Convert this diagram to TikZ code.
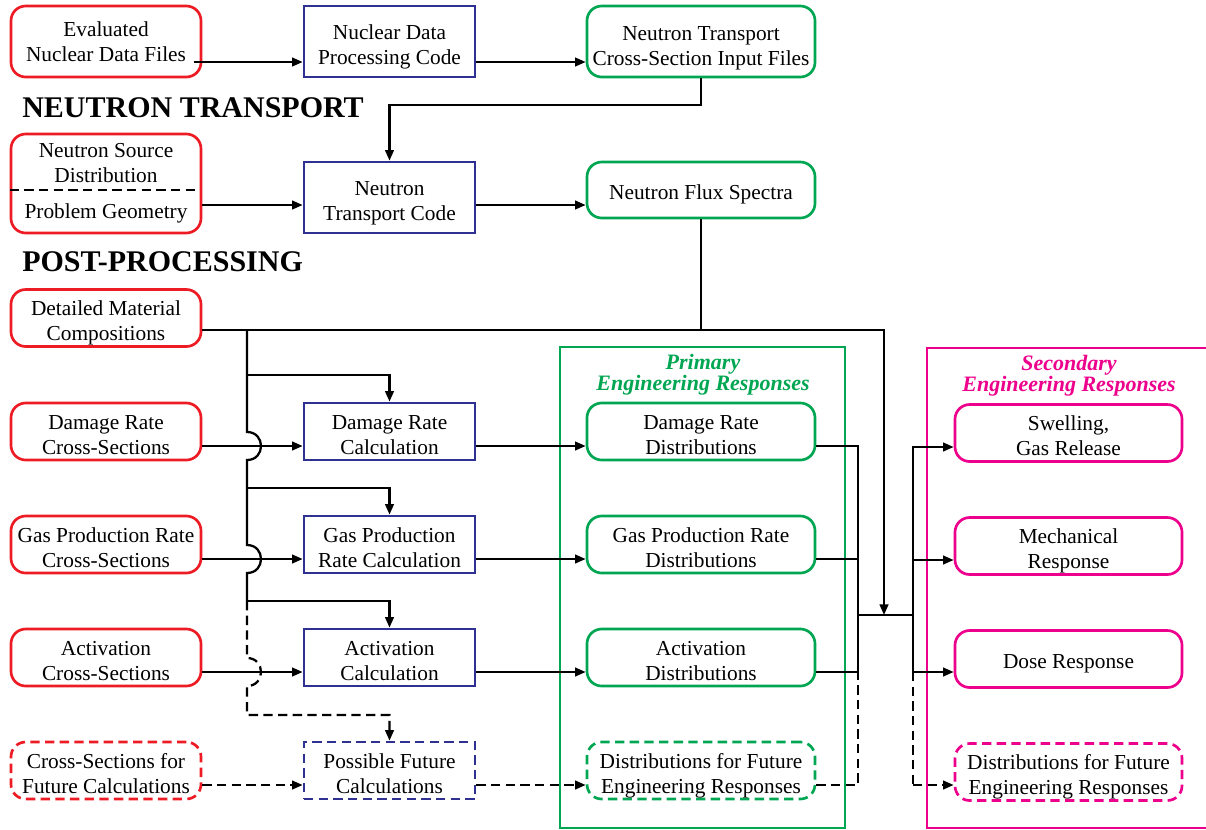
\documentclass[tikz,border=0pt]{standalone}
\usepackage{fontspec}
\setmainfont{Liberation Serif}
\usetikzlibrary{arrows.meta}
\definecolor{cred}{RGB}{237,28,36}
\definecolor{cblue}{RGB}{46,49,146}
\definecolor{cgreen}{RGB}{0,166,81}
\definecolor{cmag}{RGB}{236,0,140}
\begin{document}
\begin{tikzpicture}[x=0.75pt,y=-0.75pt,
 every node/.style={font=\fontsize{16}{18.75}\selectfont, align=center, inner sep=0pt},
 box/.style={draw, line width=2pt, minimum height=42.75pt, text height=34.25pt, text depth=0pt},
 one/.style={text height=14pt},
 rbox/.style={box, rounded corners=11pt, draw=cred, minimum width=142.5pt},
 bbox/.style={box, draw=cblue, minimum width=128.25pt},
 gbox/.style={box, rounded corners=11pt, draw=cgreen, minimum width=171pt},
 mbox/.style={box, rounded corners=11pt, draw=cmag, minimum width=170.25pt},
 fut/.style={dash pattern=on 7pt off 4pt},
 line/.style={line width=1.7pt},
 conn/.style={line width=1.7pt, -{Triangle[length=8pt,width=6.5pt]}},
 title/.style={font=\fontsize{22.5}{26}\selectfont\bfseries, anchor=west},
 ctitle/.style={font=\fontsize{16.5}{16}\selectfont\bfseries\itshape}
]
\useasboundingbox (0,0) rectangle (1206,829);
% containers
\draw[cgreen, line width=2pt] (560,347) rectangle (845,828);
\draw[cmag, line width=2pt] (927,348) rectangle (1220,828);
\node[ctitle, text=cgreen] (pt) at (703,375) {Primary\\Engineering Responses};
\node[ctitle, text=cmag] (st) at (1069,376) {Secondary\\Engineering Responses};

% row coordinates
\coordinate (r1) at (0,62);
\coordinate (r2) at (0,205);
\coordinate (r3) at (0,330);
\coordinate (ra) at (0,446);
\coordinate (rb) at (0,559);
\coordinate (rc) at (0,672);
\coordinate (rd) at (0,785);
\coordinate (xbus) at (247,0);
\coordinate (xl) at (858,0);
\coordinate (xr) at (913,0);
\coordinate (xj) at (884,0);
\coordinate (jn) at (884,615);

% top row
\node[rbox, minimum height=53.25pt, text height=30.5pt] (ev) at (106,41.5) {Evaluated\\Nuclear Data Files};
\node[bbox, minimum height=53.25pt] (ndp) at (389.5,41.5) {Nuclear Data\\Processing Code};
\node[gbox, minimum height=53.25pt, text height=36pt] (xs) at (701,41.5) {Neutron Transport\\Cross-Section Input Files};

\node[title] (nt) at (22,108) {NEUTRON TRANSPORT};
\node[title] (pp) at (22,262) {POST-PROCESSING};

% second row
\node[rbox, minimum height=74.25pt] (src) at (106,183.5) {};
\node (srct) at (106,163) {Neutron Source\\Distribution};
\node (geo) at (106,213) {Problem Geometry};
\draw[line, fut] ([shift={(0,6.5)}]src.west) -- ([shift={(-6,6.5)}]src.east);
\node[bbox, minimum height=53.25pt] (ntc) at (389.5,197.5) {Neutron\\Transport Code};
\node[gbox, one, minimum height=42pt] (flux) at (701,190) {Neutron Flux Spectra};

% third row
\node[rbox] (dmc) at (106,318) {Detailed Material\\Compositions};

% calculation rows
\node[rbox] (drx) at (106,431.5) {Damage Rate\\Cross-Sections};
\node[bbox] (drc) at (389.5,431.5) {Damage Rate\\Calculation};
\node[gbox] (drd) at (701,431.5) {Damage Rate\\Distributions};

\node[rbox] (gpx) at (106,544.5) {Gas Production Rate\\Cross-Sections};
\node[bbox] (gpc) at (389.5,544.5) {Gas Production\\Rate Calculation};
\node[gbox] (gpd) at (701,544.5) {Gas Production Rate\\Distributions};

\node[rbox] (acx) at (106,657.5) {Activation\\Cross-Sections};
\node[bbox] (acc) at (389.5,657.5) {Activation\\Calculation};
\node[gbox] (acd) at (701,657.5) {Activation\\Distributions};

\node[rbox, fut] (fux) at (106,770.5) {Cross-Sections for\\Future Calculations};
\node[bbox, fut] (fuc) at (389.5,770.5) {Possible Future\\Calculations};
\node[gbox, fut] (fud) at (701,770.5) {Distributions for Future\\Engineering Responses};

% secondary
\node[mbox] (sw) at (1068.5,433) {Swelling,\\Gas Release};
\node[mbox] (me) at (1068.5,546) {Mechanical\\Response};
\node[mbox, one] (do) at (1068.5,659) {Dose Response};
\node[mbox, fut] (fs) at (1068.5,772) {Distributions for Future\\Engineering Responses};

% top connectors
\draw[conn] ([xshift=-6pt]ev.east |- r1) -- (ndp.west |- r1);
\draw[conn] (ndp.east |- r1) -- (xs.west |- r1);
\draw[conn] (xs.south) -- ++(0,27) -| (ntc.north);
\draw[conn] (src.east |- r2) -- (ntc.west |- r2);
\draw[conn] (ntc.east |- r2) -- (flux.west |- r2);

% flux and materials
\draw[line] (flux.south) -- (flux.south |- r3);
\draw[conn] (dmc.east |- r3) -- (xj |- r3) -- (jn);

% bus
\coordinate (b0) at (xbus |- r3);
\coordinate (b1) at (247,375);
\coordinate (b2) at (247,488);
\coordinate (b3) at (247,601);
\draw[line] (b0) -- (247,432) .. controls +(18.7,0) and +(18.7,0) .. ++(0,28)
  -- (247,545) .. controls +(18.7,0) and +(18.7,0) .. ++(0,28) -- (b3);
\draw[conn] (b1) -| (drc.north);
\draw[conn] (b2) -| (gpc.north);
\draw[conn] (b3) -| (acc.north);
\draw[conn, fut] (b3) -- ++(0,57) .. controls +(18.7,0) and +(18.7,0) .. ++(0,28)
  -- ++(0,29) -| (fuc.north);

% horizontal row connectors
\draw[conn] (drx.east |- ra) -- (drc.west |- ra);
\draw[conn] (drc.east |- ra) -- (drd.west |- ra);
\draw[conn] (gpx.east |- rb) -- (gpc.west |- rb);
\draw[conn] (gpc.east |- rb) -- (gpd.west |- rb);
\draw[conn] (acx.east |- rc) -- (acc.west |- rc);
\draw[conn] (acc.east |- rc) -- (acd.west |- rc);
\draw[conn, fut] (fux.east |- rd) -- (fuc.west |- rd);
\draw[conn, fut] (fuc.east |- rd) -- (fud.west |- rd);

% collection to the right
\draw[line] (drd.east |- ra) -- (xl |- ra) -- (xl |- rc);
\draw[line] (gpd.east |- rb) -- (xl |- rb);
\draw[line] (acd.east |- rc) -- (xl |- rc);
\draw[line, fut] (fud.east |- rd) -- (xl |- rd) -- (xl |- rc);
\draw[line] (xl |- jn) -- (xr |- jn);
\draw[line] (xr |- ra) -- (xr |- rc);
\draw[line, fut] (xr |- rc) -- (xr |- rd);
\draw[conn] ([shift={(0,14)}]xr |- sw) -- ([shift={(0,14)}]sw.west);
\draw[conn] ([shift={(0,14)}]xr |- me) -- ([shift={(0,14)}]me.west);
\draw[conn] ([shift={(0,13)}]xr |- do) -- ([shift={(0,13)}]do.west);
\draw[conn, fut] ([shift={(0,13)}]xr |- fs) -- ([shift={(0,13)}]fs.west);
\end{tikzpicture}
\end{document}
